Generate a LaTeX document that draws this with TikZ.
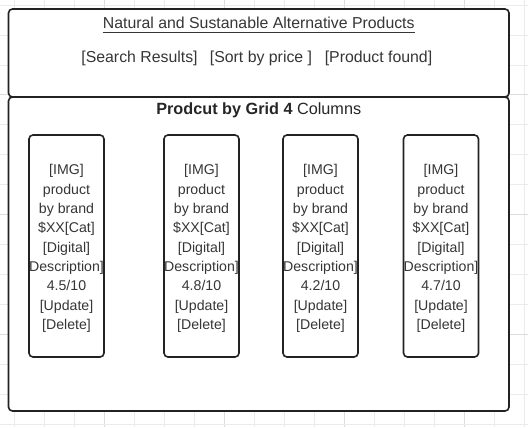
\documentclass[tikz,border=0pt]{standalone}
\usepackage{fontspec}
\setmainfont{Liberation Sans}
\definecolor{edge}{HTML}{222222}
\definecolor{ink}{HTML}{363636}
\definecolor{gridminor}{HTML}{EBEBEB}
\definecolor{gridmajor}{HTML}{DCDCDC}
\begin{document}
\begin{tikzpicture}[x=1bp,y=-1bp,
  panel/.style={draw=edge, line width=1.6bp, rounded corners=4bp, fill=white,
    minimum width=500.5bp, inner sep=0pt},
  card/.style={draw=edge, line width=1.6bp, rounded corners=4bp, fill=white,
    minimum width=75bp, minimum height=222bp, inner sep=0pt},
  cardtext/.style={text=ink, align=center, inner sep=0pt,
    font=\fontsize{14.2}{19.4}\selectfont},
  lbl/.style={text=ink, inner sep=0pt, font=\fontsize{15.9}{18}\selectfont}]
\useasboundingbox (0,0) rectangle (528,427);
\fill[white] (0,0) rectangle (528,427);
% background canvas grid
\foreach \k in {0,...,17} {
  \pgfmathsetmacro{\gx}{14.8+29.95*\k}
  \pgfmathtruncatemacro{\mj}{mod(\k,4)==3}
  \ifnum\mj=1 \draw[gridmajor, line width=0.8bp] (\gx,0) -- (\gx,427);
  \else \draw[gridminor, line width=0.8bp] (\gx,0) -- (\gx,427); \fi
}
\foreach \k in {0,...,14} {
  \pgfmathsetmacro{\gy}{5+29.95*\k}
  \pgfmathtruncatemacro{\mj}{mod(\k,4)==3}
  \ifnum\mj=1 \draw[gridmajor, line width=0.8bp] (0,\gy) -- (528,\gy);
  \else \draw[gridminor, line width=0.8bp] (0,\gy) -- (528,\gy); \fi
}
% header panel and product grid panel
\node[panel, minimum height=88bp] (header) at (258.75,53) {};
\node[panel, minimum height=314bp] (gridpanel) at (258.75,254) {};
\node[lbl] (title) at (258.75,22.5) {Natural and Sustanable Alternative Products};
\draw[ink, line width=0.9bp] ([yshift=-4bp]title.south west) -- ([yshift=-4bp]title.south east);
\node[lbl] (search) at (139.5,58) {[Search Results]};
\node[lbl] (sort) at (261,58) {[Sort by price ]};
\node[lbl] (found) at (378.5,58) {[Product found]};
\node[lbl, text=black!85, font=\fontsize{16.3}{18}\selectfont] (gridtitle) at (258.75,110.5) {\textbf{Prodcut by Grid 4} Columns};
% product cards
\foreach \name/\cx/\score in {c1/66.5/4.5, c2/201.5/4.8, c3/320.5/4.2, c4/441/4.7} {
  \node[card] (\name) at (\cx,246) {};
  \node[cardtext] (\name t) at ([yshift=-2.5bp]\name.center)
    {{[IMG]}\\product\\by brand\\\$XX[Cat]\\{[Digital]}\\Description]\\\score/10\\{[Update]}\\{[Delete]}};
}
\end{tikzpicture}
\end{document}
